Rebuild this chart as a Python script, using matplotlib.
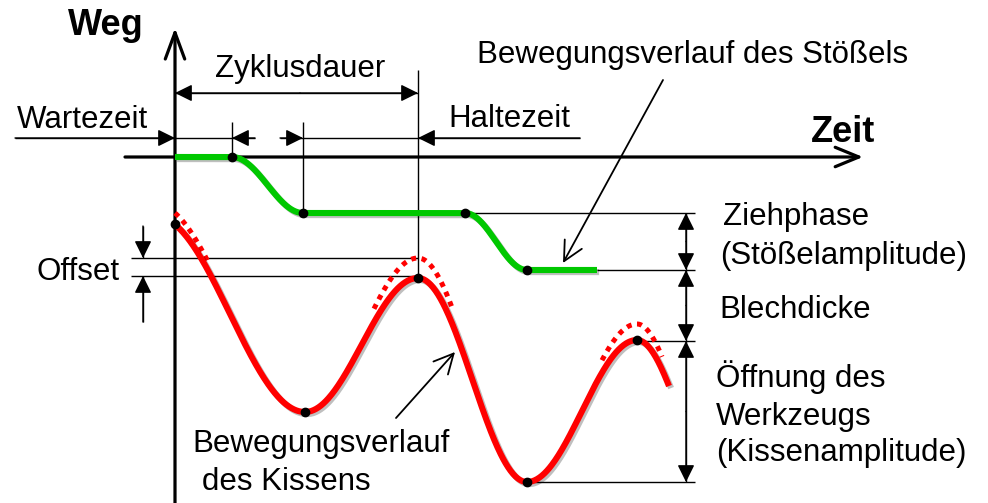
"""Schematic: Weg-Zeit-Verlauf von Stößel und Kissen (Ziehpresse)."""
import numpy as np
import matplotlib

matplotlib.use("Agg")
import matplotlib.pyplot as plt
import matplotlib.patheffects as pe

# --- curve key points (pixel space, y downwards) ---------------------------
# Stößel (green): flat / S-transition / flat ...
green_x = [175, 232, 303, 465, 527, 597]
green_y = [157, 157, 213, 213, 270, 270]
green_dots = [1, 2, 3, 4]

# Kissen (red): extrema of the oscillation, first and last are virtual
red_x = [155, 305, 418, 527, 637, 720]
red_y = [216, 412, 278, 482, 340, 482]
red_span = (175, 669)
red_dots_x = [175, 305, 418, 527, 637]

# dotted (ideal) Kissen course near the upper turning points
red_ideal_y = [204, 412, 258, 482, 324, 482]
ideal_spans = [(175, 208), (374, 452), (602, 662)]

# reference levels
y_time_axis = 157
x_weg_axis = 175
y_offset = [258, 276]
dim_levels = [213, 270, 341, 482]
dim_x = 686

# --- colours / styles -------------------------------------------------------
GREEN = "#00C800"
RED = "#FF0000"
FONT = "Liberation Sans"
FS = 22.5
FS_BOLD = 26


def eased(xk, yk, x):
    """Cosine-eased path through the key points."""
    x = np.asarray(x, dtype=float)
    i = np.clip(np.searchsorted(xk, x, side="right") - 1, 0, len(xk) - 2)
    x0, x1 = np.take(xk, i), np.take(xk, i + 1)
    y0, y1 = np.take(yk, i), np.take(yk, i + 1)
    t = (x - x0) / (x1 - x0)
    return y0 + (y1 - y0) * (1 - np.cos(np.pi * t)) / 2


fig = plt.figure(figsize=(9.88, 5.03), dpi=100)
ax = fig.add_axes([0, 0, 1, 1])
ax.set_xlim(0, 988)
ax.set_ylim(503, 0)
ax.axis("off")

thin = dict(color="black", lw=1.0, solid_capstyle="butt")
shadow = [pe.SimpleLineShadow(offset=(1.5, -1.5), alpha=0.25), pe.Normal()]


def dim_arrow(tip, tail):
    ax.annotate("", xy=tip, xytext=tail,
                arrowprops=dict(arrowstyle="-|>,head_length=10.5,head_width=5.2",
                                mutation_scale=1, lw=1.0, color="black",
                                shrinkA=0, shrinkB=0))


def open_arrow(tip, tail, lw=1.2, hl=11, hw=7):
    ax.annotate("", xy=tip, xytext=tail,
                arrowprops=dict(arrowstyle=f"->,head_length={hl},head_width={hw}",
                                mutation_scale=1, lw=lw, color="black",
                                shrinkA=0, shrinkB=0))


# --- axes -------------------------------------------------------------------
open_arrow((x_weg_axis, 28), (x_weg_axis, 503), lw=2.3, hl=19, hw=7)
open_arrow((863, y_time_axis), (125, y_time_axis), lw=2.3, hl=17, hw=7)

# --- time dimensions ----------------------------------------------------------
ax.plot([232, 232], [122, y_time_axis], **thin)
ax.plot([303, 303], [122, 213], **thin)
ax.plot([418, 418], [70, 278], **thin)
ax.plot([15, 255], [138, 138], **thin)
ax.plot([280, 580], [138, 138], **thin)
dim_arrow((175, 138), (15, 138))
dim_arrow((232, 138), (255, 138))
dim_arrow((303, 138), (280, 138))
dim_arrow((418, 138), (580, 138))
ax.plot([175, 418], [93, 93], **thin)
dim_arrow((175, 93), (300, 93))
dim_arrow((418, 93), (300, 93))

# --- offset ---------------------------------------------------------------------
for yo in y_offset:
    ax.plot([131, 418], [yo, yo], **thin)
ax.plot([143, 143], [226, y_offset[0]], **thin)
ax.plot([143, 143], [y_offset[1], 322], **thin)
dim_arrow((143, y_offset[0]), (143, 226))
dim_arrow((143, y_offset[1]), (143, 322))

# --- amplitude dimensions on the right --------------------------------------------
ax.plot([465, 695], [dim_levels[0]] * 2, **thin)
ax.plot([597, 695], [dim_levels[1]] * 2, **thin)
ax.plot([637, 695], [dim_levels[2]] * 2, **thin)
ax.plot([527, 695], [dim_levels[3]] * 2, **thin)
for a, b in zip(dim_levels[:-1], dim_levels[1:]):
    ax.plot([dim_x, dim_x], [a, b], **thin)
    dim_arrow((dim_x, a), (dim_x, (a + b) / 2))
    dim_arrow((dim_x, b), (dim_x, (a + b) / 2))

# --- curves -----------------------------------------------------------------------
for x0, x1 in ideal_spans:
    xs = np.linspace(x0, x1, 60)
    ax.plot(xs, eased(red_x, red_ideal_y, xs), color=RED, lw=3.6,
            dashes=(1, 1.1), dash_capstyle="butt", zorder=3)

xs = np.linspace(*red_span, 600)
ax.plot(xs, eased(red_x, red_y, xs), color=RED, lw=4.4,
        solid_capstyle="butt", path_effects=shadow, zorder=4)

xs = np.linspace(green_x[0], green_x[-1], 600)
ax.plot(xs, eased(green_x, green_y, xs), color=GREEN, lw=4.4,
        solid_capstyle="butt", path_effects=shadow, zorder=4)

ax.plot([green_x[i] for i in green_dots], [green_y[i] for i in green_dots],
        "o", color="black", ms=6, zorder=5)
ax.plot(red_dots_x, eased(red_x, red_y, red_dots_x), "o", color="black",
        ms=6, zorder=5)

# --- pointers ----------------------------------------------------------------------
open_arrow((563, 263), (663, 80), lw=1.3, hl=14, hw=7)
open_arrow((455, 352), (396, 418), lw=1.3, hl=14, hw=7)

# --- texts -----------------------------------------------------------------------------
txt = dict(family=FONT, fontsize=FS, va="baseline", ha="left")
bold = dict(family=FONT, fontsize=FS_BOLD, fontweight="bold",
            va="baseline", ha="left")
ax.text(68, 35, "Weg", **bold)
ax.text(811, 142, "Zeit", **bold)
ax.text(215, 77, "Zyklusdauer", **txt)
ax.text(17, 128, "Wartezeit", **txt)
ax.text(448, 127, "Haltezeit", **txt)
ax.text(477, 63, "Bewegungsverlauf des Stößels", **txt)
ax.text(36, 280, "Offset", **txt)
ax.text(723, 225, "Ziehphase", **txt)
ax.text(720, 264, "(Stößelamplitude)", **txt)
ax.text(719, 318, "Blechdicke", **txt)
ax.text(716, 387, "Öffnung des", **txt)
ax.text(716, 425, "Werkzeugs", **txt)
ax.text(716, 461, "(Kissenamplitude)", **txt)
ax.text(192, 452, "Bewegungsverlauf", **txt)
ax.text(202, 490, "des Kissens", **txt)

fig.savefig("out.png", dpi=100)
plt.close(fig)
